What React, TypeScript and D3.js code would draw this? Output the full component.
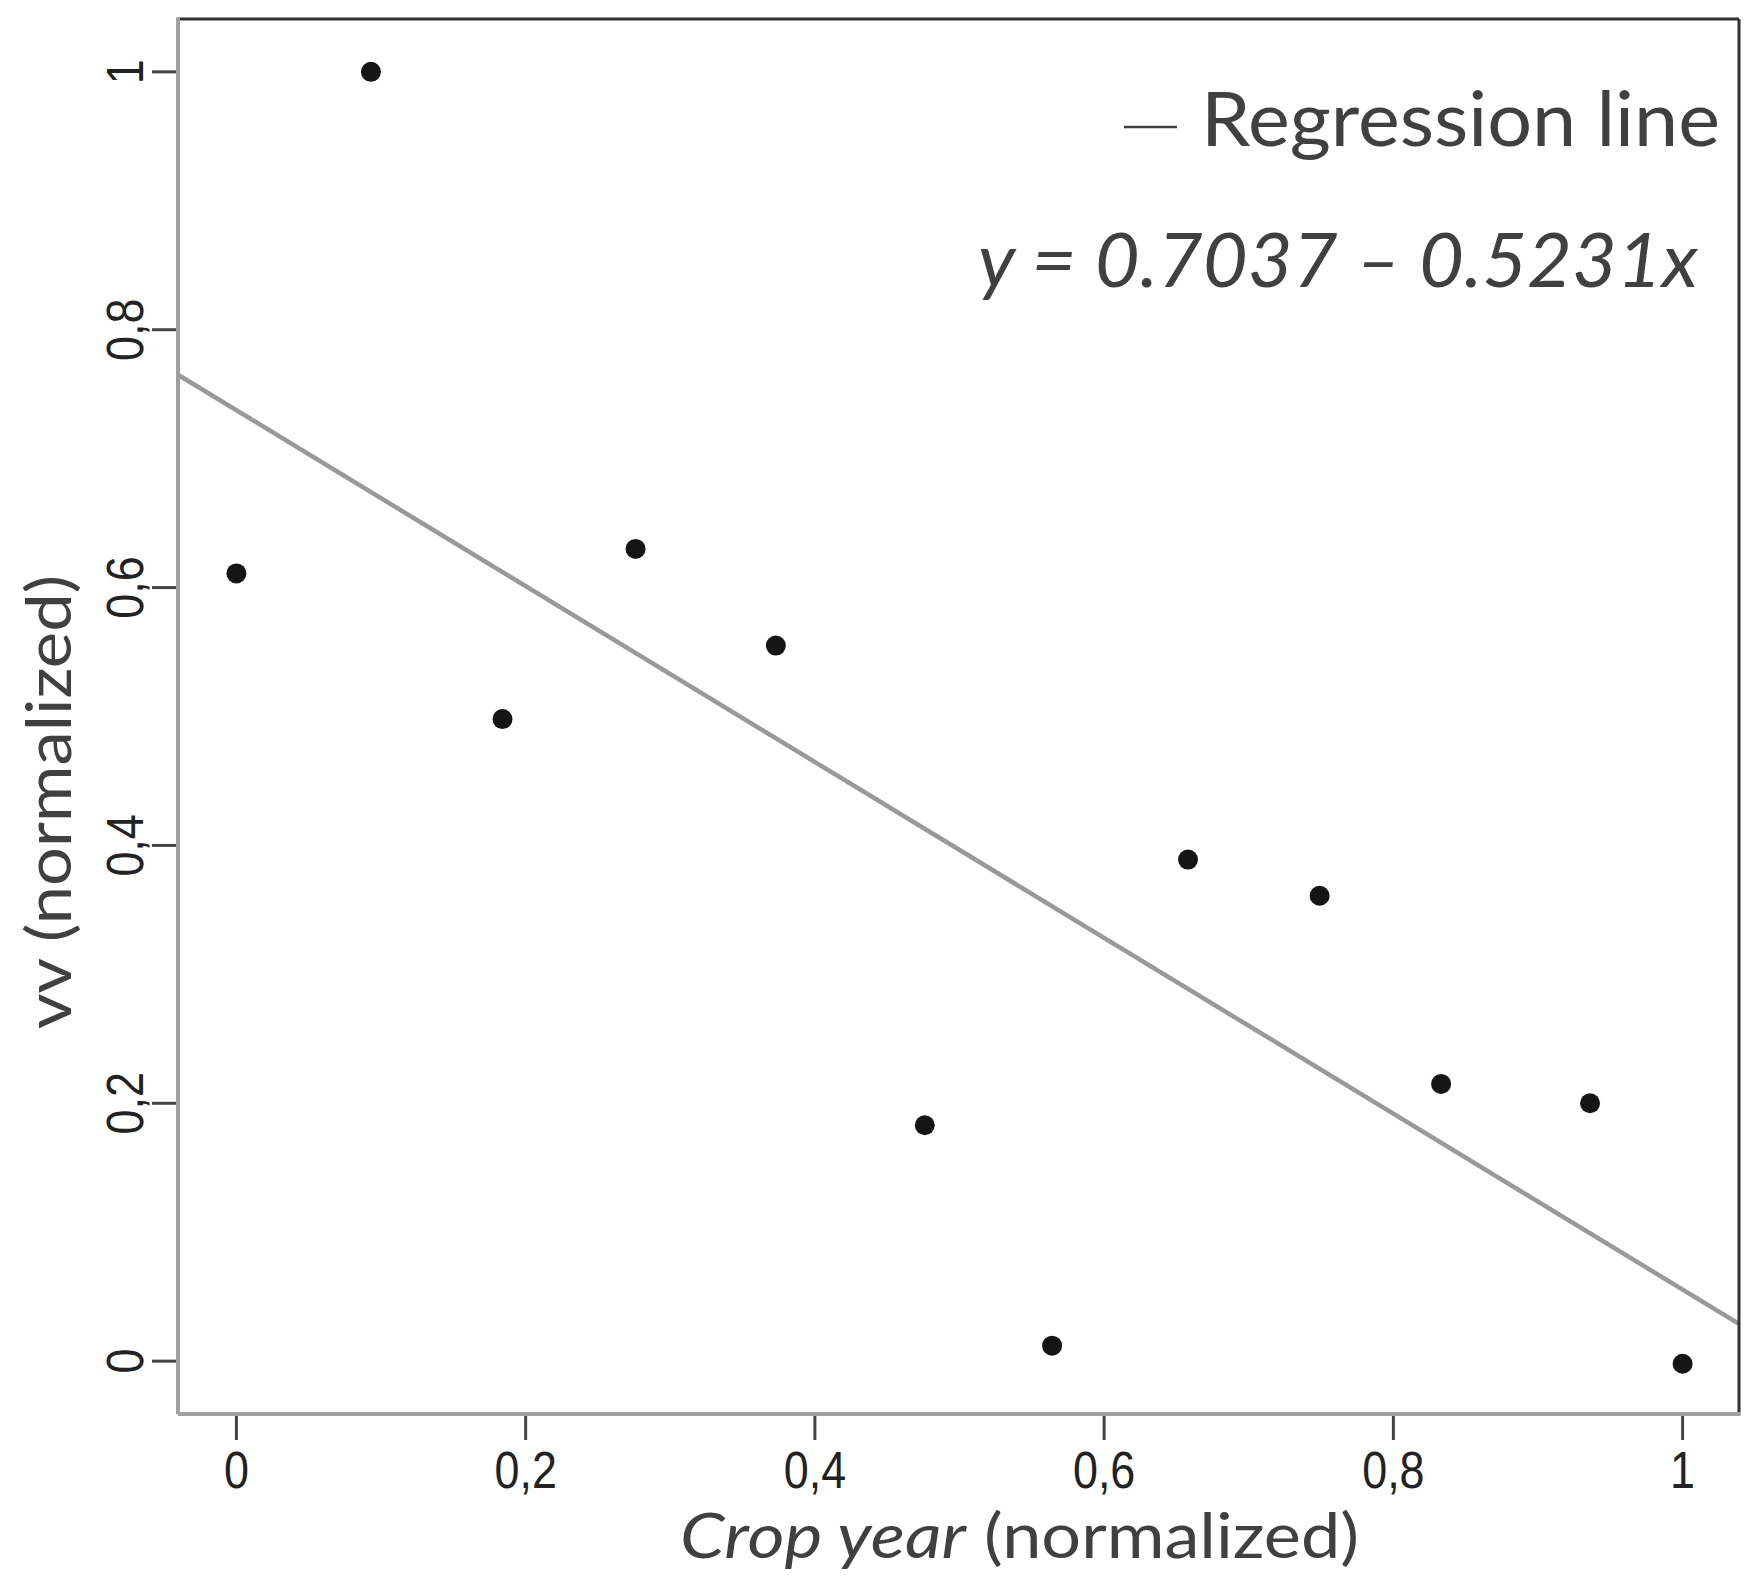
import React from 'react';
import * as d3 from 'd3';

const cropYear = [0, 0.093, 0.184, 0.276, 0.373, 0.476, 0.564, 0.658, 0.749, 0.833, 0.936, 1.0];
const vvValue = [0.611, 1.0, 0.498, 0.63, 0.555, 0.183, 0.012, 0.389, 0.361, 0.215, 0.2, -0.002];
const xTickValues = [0, 0.2, 0.4, 0.6, 0.8, 1];
const yTickValues = [0, 0.2, 0.4, 0.6, 0.8, 1];
const lineIntercept = 0.7375;
const lineSlope = -0.682;
const legendLabel = 'Regression line';
const equationLabel = 'y = 0.7037 \u2013 0.5231x';
const xLabelItalic = 'Crop year';
const xLabelRest = '(normalized)';
const yLabel = 'vv (normalized)';

const W = 1757;
const H = 1588;
const L = 178, R = 1739, T = 19, B = 1414;

const fmt = (v: number) => String(Math.round(v * 10) / 10).replace('.', ',');

export default function App() {
  const x = d3.scaleLinear().domain([-0.0404, 1.039]).range([L, R]);
  const y = d3.scaleLinear().domain([-0.041, 1.041]).range([B, T]);
  const [dx0, dx1] = x.domain();
  const lineGen = d3.line<number>().x((d) => x(d)).y((d) => y(lineIntercept + lineSlope * d));
  const pts = cropYear.map((c, i) => ({ c, v: vvValue[i] }));
  const textColor = '#404040';
  const calibri = 'Lato, "Open Sans", sans-serif';
  const arial = '"Liberation Sans", Arial, sans-serif';
  return (
    <svg width={W} height={H} style={{ position: 'absolute', left: 0, top: 0, background: '#fff' }}>
      <defs>
        <clipPath id="plot">
          <rect x={L} y={T} width={R - L} height={B - T} />
        </clipPath>
      </defs>
      <rect x={0} y={0} width={W} height={H} fill="#fff" />
      <path d={lineGen([dx0, dx1]) || ''} stroke="#999" strokeWidth={4.5} fill="none" clipPath="url(#plot)" />
      {pts.map((p, i) => (
        <circle key={i} cx={x(p.c)} cy={y(p.v)} r={10} fill="#151515" />
      ))}
      <line x1={L} x2={R} y1={T} y2={T} stroke="#333" strokeWidth={3} />
      <line x1={R} x2={R} y1={T} y2={B} stroke="#333" strokeWidth={3} />
      <line x1={L} x2={L} y1={T - 1.5} y2={B} stroke="#a0a0a0" strokeWidth={4} />
      <line x1={L} x2={R + 1.5} y1={B} y2={B} stroke="#a0a0a0" strokeWidth={4} />
      {xTickValues.map((t) => (
        <g key={'x' + t}>
          <line x1={x(t)} x2={x(t)} y1={B + 2} y2={B + 26} stroke="#444" strokeWidth={3} />
          <text
            transform={`translate(${x(t)},1488) scale(0.88,1)`}
            textAnchor="middle"
            fontFamily={arial}
            fontSize={51}
            fill="#222"
          >
            {fmt(t)}
          </text>
        </g>
      ))}
      {yTickValues.map((t) => (
        <g key={'y' + t}>
          <line x1={L - 26} x2={L - 2} y1={y(t)} y2={y(t)} stroke="#444" strokeWidth={3} />
          <text
            transform={`translate(143,${y(t)}) rotate(-90) scale(0.88,1)`}
            textAnchor="middle"
            fontFamily={arial}
            fontSize={51}
            fill="#222"
          >
            {fmt(t)}
          </text>
        </g>
      ))}
      <line x1={1124} x2={1177} y1={127} y2={127} stroke={textColor} strokeWidth={2.5} />
      <text x={1201} y={146} fontFamily={calibri} fontSize={76} fill={textColor} textLength={519} lengthAdjust="spacingAndGlyphs">
        {legendLabel}
      </text>
      <text x={978} y={287} fontFamily={calibri} fontStyle="italic" fontSize={76} fill={textColor} textLength={720} lengthAdjust="spacingAndGlyphs">
        {equationLabel}
      </text>
      <text x={680} y={1558} fontFamily={calibri} fontStyle="italic" fontSize={62} fill={textColor} textLength={286} lengthAdjust="spacingAndGlyphs">
        {xLabelItalic}
      </text>
      <text x={984} y={1558} fontFamily={calibri} fontSize={62} fill={textColor} textLength={375} lengthAdjust="spacingAndGlyphs">
        {xLabelRest}
      </text>
      <text
        transform={`translate(71,802) rotate(-90)`}
        textAnchor="middle"
        fontFamily={calibri}
        fontSize={62}
        fill={textColor}
        textLength={454}
        lengthAdjust="spacingAndGlyphs"
      >
        {yLabel}
      </text>
    </svg>
  );
}
